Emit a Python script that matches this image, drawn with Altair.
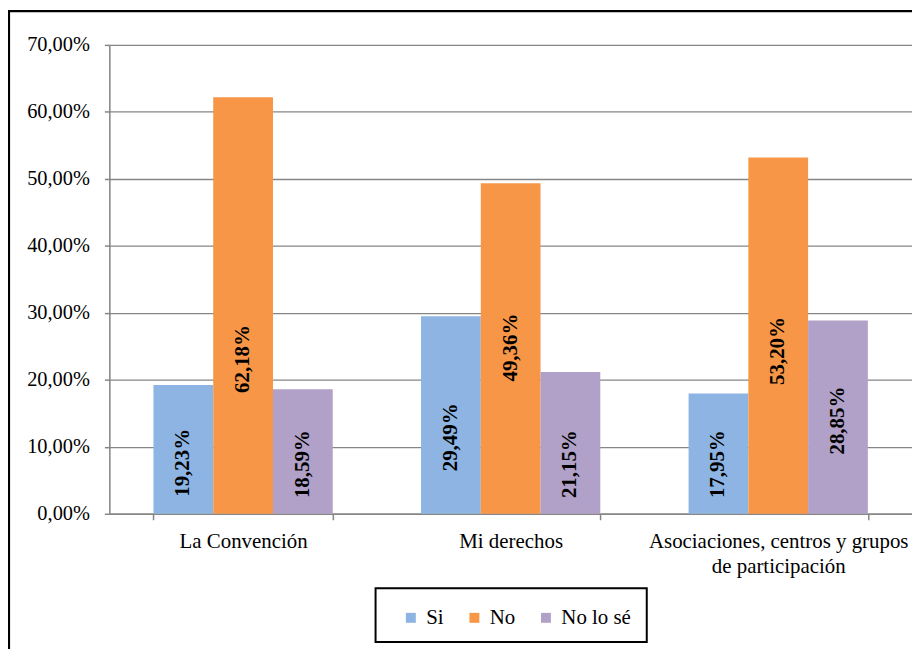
import altair as alt
import pandas as pd

categories = ["La Convención", "Mi derechos", "Asociaciones, centros y grupos de participación"]
series = ["Si", "No", "No lo sé"]
si_values = [19.23, 29.49, 17.95]
no_values = [62.18, 49.36, 53.20]
nolose_values = [18.59, 21.15, 28.85]
# where each label sits (in % units)
si_label_at = [7.6, 11.4, 7.4]
no_label_at = [23.1, 24.8, 24.3]
nolose_label_at = [7.4, 7.4, 13.9]
colors = ["#8DB4E2", "#F79646", "#B1A0C7"]
y_ticks = [0, 10, 20, 30, 40, 50, 60, 70]

rows = []
for vals, labs, s in [(si_values, si_label_at, "Si"), (no_values, no_label_at, "No"),
                      (nolose_values, nolose_label_at, "No lo sé")]:
    for c, v, l in zip(categories, vals, labs):
        rows.append({"cat": c, "serie": s, "value": v, "label_at": l,
                     "text": f"{v:.2f}".replace(".", ",") + "%"})
df = pd.DataFrame(rows)

FONT = "'Liberation Serif', 'Times New Roman', Times, serif"
AX = "#868686"

x_enc = alt.X("cat:N", sort=categories, title=None,
              scale=alt.Scale(paddingInner=0.33, paddingOuter=0.165),
              axis=alt.Axis(labelAngle=0, labelFont=FONT, labelFontSize=21, labelColor="black",
                            labelPadding=11, labelLineHeight=25, tickBand="extent", tickSize=6,
                            tickColor=AX, domainColor=AX, domainWidth=1.5, tickWidth=1.5,
                            labelLimit=400,
                            labelExpr="datum.value == 'Asociaciones, centros y grupos de participación' ? ['Asociaciones, centros y grupos', 'de participación'] : datum.label"))
xo_enc = alt.XOffset("serie:N", sort=series, scale=alt.Scale(paddingInner=0, paddingOuter=0))

bars = alt.Chart(df).mark_bar().encode(
    x=x_enc,
    xOffset=xo_enc,
    y=alt.Y("value:Q", title=None, scale=alt.Scale(domain=[0, 70], nice=False),
            axis=alt.Axis(values=y_ticks, labelFont=FONT, labelFontSize=20.5, labelColor="black",
                          labelExpr="replace(format(datum.value, '.2f'), '.', ',') + '%'",
                          grid=True, gridColor=AX, gridWidth=1.3, tickColor=AX, tickSize=5,
                          tickWidth=1.5, domainColor=AX, domainWidth=1.5, labelPadding=15)),
    color=alt.Color("serie:N", sort=series, scale=alt.Scale(domain=series, range=colors),
                    legend=alt.Legend(orient="none", legendX=293, legendY=566, direction="horizontal",
                                      title=None, symbolType="square", symbolSize=100,
                                      symbolStrokeWidth=0, labelFont=FONT, labelFontSize=21,
                                      labelColor="black", columnPadding=20, labelOffset=5,
                                      padding=0)),
)

labels = alt.Chart(df).mark_text(angle=270, font=FONT, fontSize=21, fontWeight="bold",
                                 color="black", align="center", baseline="middle").encode(
    x=alt.X("cat:N", sort=categories),
    xOffset=xo_enc,
    y=alt.Y("label_at:Q"),
    text="text:N",
)

one = pd.DataFrame({"a": [0]})
frame = alt.Chart(one).mark_rect(filled=False, stroke="black", strokeWidth=2.2).encode(
    x=alt.value(-101), x2=alt.value(830), y=alt.value(-34), y2=alt.value(720))
legend_box = alt.Chart(one).mark_rect(filled=False, stroke="black", strokeWidth=2).encode(
    x=alt.value(268), x2=alt.value(541), y=alt.value(547), y2=alt.value(601))

chart = alt.layer(frame, bars, labels, legend_box).properties(
    width=808, height=472,
    autosize=alt.AutoSizeParams(type="none"),
    padding={"left": 102, "top": 35, "right": 0, "bottom": 134},
).configure_view(stroke=None).configure(background="white")

chart.save("out.html", embed_options={"renderer": "svg", "actions": False})
